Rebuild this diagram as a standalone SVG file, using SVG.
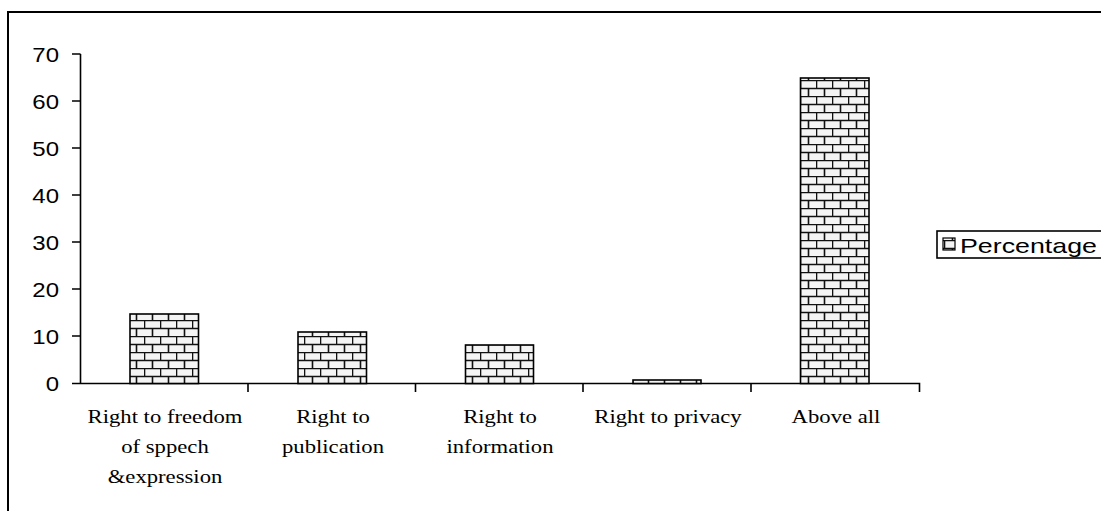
<svg xmlns="http://www.w3.org/2000/svg" width="1101" height="511" viewBox="0 0 1101 511">
<style>
.ax{stroke:#000;stroke-width:1.6;fill:none}
.yl{font-family:"Liberation Sans",Arial,sans-serif;font-size:20px;fill:#000;text-anchor:end}
.xl{font-family:"Liberation Serif","Times New Roman",serif;font-size:18px;fill:#000;text-anchor:middle}
.bar{fill:url(#brick);stroke:#000;stroke-width:1.6}
</style>
<defs>
<pattern id="brick" patternUnits="userSpaceOnUse" x="0" y="0" width="16" height="16">
<rect width="16" height="16" fill="#f4f4f4"/>
<path d="M0 0.5H16M0 8.5H16M0.5 0V8M8.5 8V16" stroke="#111" stroke-width="1.6" fill="none"/>
</pattern>
</defs>
<rect x="8" y="12" width="1100" height="510" fill="#fff" stroke="#000" stroke-width="2"/>
<g id="axes">
<path class="ax" d="M80.5 54V383.5M72 54H80.5M72 101H80.5M72 148H80.5M72 195H80.5M72 242H80.5M72 289H80.5M72 336H80.5M72 383.5H919.5V392M248 383.5V392M415.5 383.5V392M583 383.5V392M751 383.5V392"/>
</g>
<g id="y-labels" transform="translate(59,0) scale(1.2,1)">
<text class="yl" x="0" y="62">70</text>
<text class="yl" x="0" y="109">60</text>
<text class="yl" x="0" y="156">50</text>
<text class="yl" x="0" y="203">40</text>
<text class="yl" x="0" y="250">30</text>
<text class="yl" x="0" y="297">20</text>
<text class="yl" x="0" y="344">10</text>
<text class="yl" x="0" y="391">0</text>
</g>
<g id="bar-freedom"><rect class="bar" x="130" y="314" width="68.5" height="69.5"/></g>
<g id="bar-publication"><rect class="bar" x="298" y="332" width="68.5" height="51.5"/></g>
<g id="bar-information"><rect class="bar" x="465.5" y="345" width="68" height="38.5"/></g>
<g id="bar-privacy"><rect class="bar" x="633" y="380" width="68" height="3.5"/></g>
<g id="bar-above"><rect class="bar" x="800.5" y="78" width="68.5" height="305.5"/></g>
<g id="x-labels">
<g transform="translate(165,0) scale(1.26,1)">
<text class="xl" x="0" y="423">Right to freedom</text>
<text class="xl" x="0" y="453">of sppech</text>
<text class="xl" x="0" y="483">&amp;expression</text>
</g>
<g transform="translate(333,0) scale(1.26,1)">
<text class="xl" x="0" y="423">Right to</text>
<text class="xl" x="0" y="453">publication</text>
</g>
<g transform="translate(500,0) scale(1.26,1)">
<text class="xl" x="0" y="423">Right to</text>
<text class="xl" x="0" y="453">information</text>
</g>
<g transform="translate(668,0) scale(1.26,1)">
<text class="xl" x="0" y="423">Right to privacy</text>
</g>
<g transform="translate(836,0) scale(1.26,1)">
<text class="xl" x="0" y="423">Above all</text>
</g>
</g>
<g id="legend">
<rect x="937" y="231" width="170" height="27" fill="#fff" stroke="#000" stroke-width="1.6"/>
<rect x="943" y="238" width="12" height="12" fill="url(#brick)" stroke="#000" stroke-width="1.2"/>
<text x="960" y="253" textLength="137" lengthAdjust="spacingAndGlyphs" style="font-family:'Liberation Sans',Arial,sans-serif;font-size:21px;fill:#000">Percentage</text>
</g>
</svg>
